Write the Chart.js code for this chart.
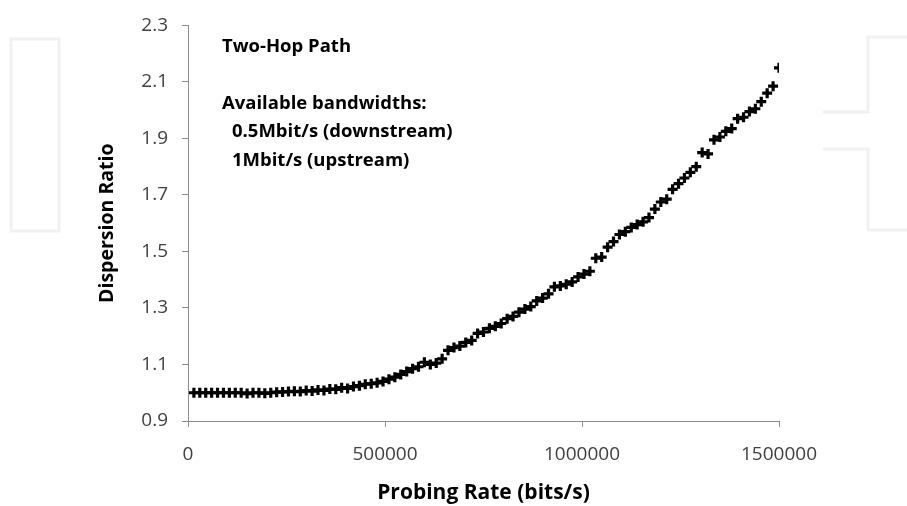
<!DOCTYPE html>
<html>
<head>
<meta charset="utf-8">
<script src="https://cdn.jsdelivr.net/npm/chart.js@4/dist/chart.umd.min.js"></script>
<style>
  html, body { margin: 0; padding: 0; background: #ffffff; }
  #wrap { width: 907px; height: 506px; position: relative; }
</style>
</head>
<body>
<div id="wrap"><canvas id="c" width="907" height="506"></canvas></div>
<script>
// Probing rates, 15 kbit/s steps up to 1.5 Mbit/s
const probingRates = [];
for (let i = 1; i <= 100; i++) probingRates.push(i * 15000);

// Measured dispersion ratio at each probing rate
const dispersionRatios = [
  1.000, 1.000, 1.000, 1.000, 1.000, 1.000, 1.000, 1.000, 1.000, 0.997,
  1.000, 1.000, 0.998, 1.000, 1.002, 1.003, 1.004, 1.005, 1.004, 1.008,
  1.006, 1.010, 1.008, 1.013, 1.012, 1.018, 1.015, 1.022, 1.025, 1.030,
  1.032, 1.035, 1.040, 1.048, 1.055, 1.065, 1.075, 1.085, 1.092, 1.108,
  1.100, 1.105, 1.120, 1.150, 1.160, 1.165, 1.178, 1.185, 1.210, 1.215,
  1.228, 1.235, 1.245, 1.262, 1.270, 1.285, 1.296, 1.305, 1.325, 1.335,
  1.350, 1.375, 1.378, 1.384, 1.392, 1.410, 1.420, 1.430, 1.476, 1.480,
  1.515, 1.535, 1.560, 1.570, 1.585, 1.595, 1.605, 1.620, 1.650, 1.675,
  1.685, 1.720, 1.740, 1.760, 1.780, 1.800, 1.850, 1.845, 1.895, 1.905,
  1.925, 1.935, 1.970, 1.975, 1.995, 2.005, 2.030, 2.060, 2.085, 2.150
];

const xTicks = [0, 500000, 1000000, 1500000];
const yTicks = [0.9, 1.1, 1.3, 1.5, 1.7, 1.9, 2.1, 2.3];

const notes = [
  { text: 'Two-Hop Path', x: 222, y: 52 },
  { text: 'Available bandwidths:', x: 222, y: 109 },
  { text: '0.5Mbit/s (downstream)', x: 232, y: 137 },
  { text: '1Mbit/s (upstream)', x: 232, y: 166 }
];

const FONT = '"Open Sans", Lato, "Liberation Sans", sans-serif';

// faint decorative outlines in the page background
const backdrop = {
  id: 'backdrop',
  beforeDraw(chart) {
    const ctx = chart.ctx;
    ctx.save();
    ctx.strokeStyle = '#f1f1f1';
    ctx.lineWidth = 3;
    ctx.strokeRect(11, 39, 48, 192);
    ctx.beginPath();
    ctx.moveTo(907, 37); ctx.lineTo(868, 37); ctx.lineTo(868, 112); ctx.lineTo(823, 112);
    ctx.moveTo(823, 149); ctx.lineTo(868, 149); ctx.lineTo(868, 230); ctx.lineTo(907, 230);
    ctx.stroke();
    ctx.restore();
  }
};

const annotations = {
  id: 'annotations',
  afterDraw(chart) {
    const ctx = chart.ctx;
    ctx.save();
    ctx.fillStyle = '#000000';
    ctx.font = 'bold 18.5px ' + FONT;
    ctx.textBaseline = 'alphabetic';
    ctx.textAlign = 'left';
    notes.forEach(n => ctx.fillText(n.text, n.x, n.y));
    ctx.restore();
  }
};

new Chart(document.getElementById('c'), {
  type: 'scatter',
  data: {
    datasets: [{
      data: probingRates.map((r, i) => ({ x: r, y: dispersionRatios[i] })),
      pointStyle: 'cross',
      pointRadius: 5,
      pointHoverRadius: 5,
      pointBorderWidth: 3.2,
      borderColor: '#000000',
      backgroundColor: '#000000'
    }]
  },
  options: {
    responsive: false,
    animation: false,
    devicePixelRatio: 1,
    layout: { padding: { left: 0, right: 128, top: 22, bottom: 0 } },
    plugins: { legend: { display: false }, tooltip: { enabled: false } },
    scales: {
      x: {
        type: 'linear',
        min: 0, max: 1500000,
        afterBuildTicks(s) { s.ticks = xTicks.map(v => ({ value: v })); },
        afterFit(s) { s.height = 85; },
        border: { color: '#8c8c8c', width: 1 },
        grid: { display: true, drawOnChartArea: false, drawTicks: true, tickLength: 6, color: '#8c8c8c' },
        ticks: { color: '#404040', font: { family: FONT, size: 19 }, padding: 16, maxRotation: 0,
                 callback: v => String(v) },
        title: { display: true, text: 'Probing Rate (bits/s)', color: '#000000',
                 font: { family: FONT, size: 21, weight: 'bold' }, padding: { top: 0, bottom: 0 } }
      },
      y: {
        type: 'linear',
        min: 0.9, max: 2.3,
        afterBuildTicks(s) { s.ticks = yTicks.map(v => ({ value: v })); },
        afterFit(s) { s.width = 188; },
        border: { color: '#8c8c8c', width: 1 },
        grid: { display: true, drawOnChartArea: false, drawTicks: true, tickLength: 6, color: '#8c8c8c' },
        ticks: { color: '#404040', font: { family: FONT, size: 19 }, padding: 14,
                 callback: v => Number(v).toFixed(1) },
        title: { display: true, text: 'Dispersion Ratio', color: '#000000',
                 font: { family: FONT, size: 19.5, weight: 'bold' }, padding: { top: 96, bottom: 0 } }
      }
    }
  },
  plugins: [backdrop, annotations]
});
</script>
</body>
</html>
